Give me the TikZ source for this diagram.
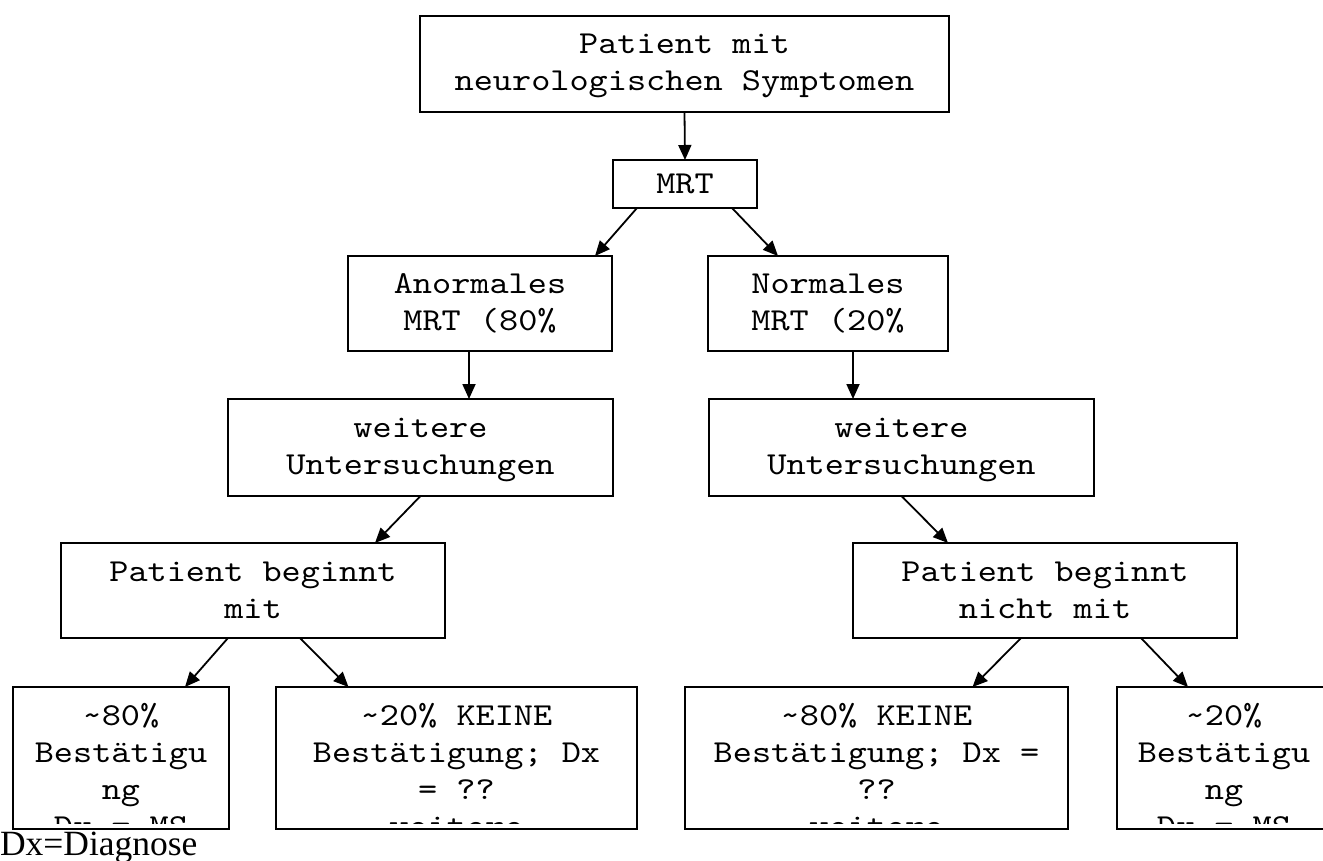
\documentclass[tikz,border=0pt]{standalone}
\usepackage{fontspec}
\setmainfont{Liberation Serif}
\newfontfamily\cour{lmmono10-regular.otf}[FakeStretch=1.14]
\usetikzlibrary{arrows.meta}
\tikzset{
  box/.style={draw, line width=1.8pt, inner sep=0pt, outer sep=0pt, rectangle},
  lbl/.style={anchor=base, inner sep=0pt, outer sep=0pt, font=\cour\fontsize{32}{37}\selectfont},
  arr/.style={line width=1.8pt, -{Triangle[length=15pt,width=13pt]}},
}
\newcommand{\mylines}[1]{\begin{tabular}[t]{@{}c@{}}#1\end{tabular}}
\begin{document}
\begin{tikzpicture}[x=1pt,y=-1pt]
\useasboundingbox (0,0) rectangle (1323,861);
\clip (0,0) rectangle (1323,861);
\fill[white] (0,0) rectangle (1323,861);

% boxes
\node[box, minimum width=529pt, minimum height=96pt] (top) at (684.5,64) {};
\node[box, minimum width=144pt, minimum height=48pt] (mrt) at (685,184) {};
\node[box, minimum width=264pt, minimum height=95pt] (anorm) at (480,303.5) {};
\node[box, minimum width=240pt, minimum height=95pt] (norm) at (828,303.5) {};
\node[box, minimum width=385pt, minimum height=97pt] (weitL) at (420.5,447.5) {};
\node[box, minimum width=385pt, minimum height=97pt] (weitR) at (901.5,447.5) {};
\node[box, minimum width=384pt, minimum height=95pt] (pbm) at (253,590.5) {};
\node[box, minimum width=384pt, minimum height=95pt] (pbnm) at (1045,590.5) {};
\node[box, minimum width=216pt, minimum height=142pt] (b1) at (121,758) {};
\node[box, minimum width=361pt, minimum height=142pt] (b2) at (456.5,758) {};
\node[box, minimum width=383pt, minimum height=142pt] (b3) at (876.5,758) {};
\node[box, minimum width=214pt, minimum height=142pt] (b4) at (1224,758) {};

% texts
\node[lbl] (topt) at (684.5,54) {\mylines{Patient mit\\neurologischen Symptomen}};
\node[lbl] (mrtt) at (685,194) {MRT};
\node[lbl] (anormt) at (480,294) {\mylines{Anormales\\MRT (80\%}};
\node[lbl] (normt) at (828,294) {\mylines{Normales\\MRT (20\%}};
\node[lbl] (weitLt) at (420.5,437) {\mylines{weitere\\Untersuchungen}};
\node[lbl] (weitRt) at (901.5,437) {\mylines{weitere\\Untersuchungen}};
\node[lbl] (pbmt) at (253,581) {\mylines{Patient beginnt\\mit}};
\node[lbl] (pbnmt) at (1045,581) {\mylines{Patient beginnt\\nicht mit}};

\begin{scope}
  \clip ([yshift=6pt]b1.south west) rectangle (b1.north east);
  \node[lbl] (b1t) at (121,725) {\mylines{\textasciitilde80\%\\Bestätigu\\ng\\Dx = MS}};
\end{scope}
\begin{scope}
  \clip ([yshift=6pt]b2.south west) rectangle (b2.north east);
  \node[lbl] (b2t) at (456.5,725) {\mylines{\textasciitilde20\% KEINE\\Bestätigung; Dx\\= ??\\weitere}};
\end{scope}
\begin{scope}
  \clip ([yshift=6pt]b3.south west) rectangle (b3.north east);
  \node[lbl] (b3t) at (876.5,725) {\mylines{\textasciitilde80\% KEINE\\Bestätigung; Dx =\\??\\weitere}};
\end{scope}
\begin{scope}
  \clip ([yshift=6pt]b4.south west) rectangle (b4.north east);
  \node[lbl] (b4t) at (1224,725) {\mylines{\textasciitilde20\%\\Bestätigu\\ng\\Dx = MS}};
\end{scope}

% connectors
\draw[arr] (top.south) -- (mrt.north);
\draw[arr] ([xshift=-48pt]mrt.south) -- ([xshift=115pt]anorm.north);
\draw[arr] ([xshift=47pt]mrt.south) -- ([xshift=-50pt]norm.north);
\draw[arr] ([xshift=-11pt]anorm.south) -- ([xshift=48.5pt]weitL.north);
\draw[arr] ([xshift=25pt]norm.south) -- ([xshift=-48.5pt]weitR.north);
\draw[arr] (weitL.south) -- ([xshift=122pt]pbm.north);
\draw[arr] (weitR.south) -- ([xshift=-97pt]pbnm.north);
\draw[arr] ([xshift=-25pt]pbm.south) -- ([xshift=64pt]b1.north);
\draw[arr] ([xshift=47pt]pbm.south) -- ([xshift=-108pt]b2.north);
\draw[arr] ([xshift=-24pt]pbnm.south) -- ([xshift=96pt]b3.north);
\draw[arr] ([xshift=96pt]pbnm.south) -- ([xshift=-36pt]b4.north);

% legend
\node[anchor=base west, inner sep=0pt, outer sep=0pt, font=\fontsize{35.5}{42}\selectfont] (legend) at (0,855) {Dx=Diagnose};
\end{tikzpicture}
\end{document}
